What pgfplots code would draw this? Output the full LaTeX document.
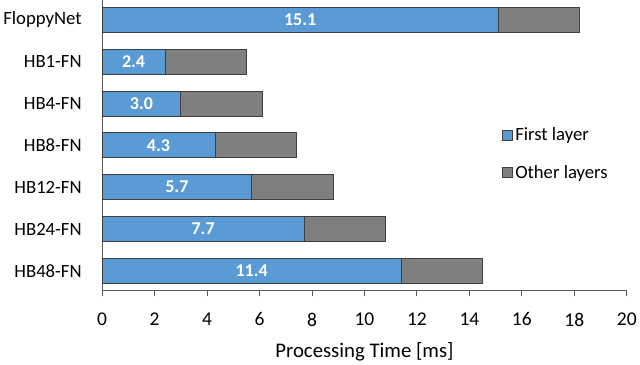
\documentclass[border=0pt]{standalone}
\usepackage{pgfplots}
\usepackage{pgfplotstable}
\pgfplotsset{compat=1.18}
\usepackage{fontspec}
\setmainfont{Carlito}

\definecolor{firstblue}{HTML}{5B9BD5}
\definecolor{othergray}{HTML}{7F7F7F}
\definecolor{edge}{HTML}{3F3F3F}

% y: 0 = bottom row
\pgfplotstableread{
y first other
0 11.4 3.1
1 7.7  3.1
2 5.7  3.1
3 4.3  3.1
4 3.0  3.1
5 2.4  3.1
6 15.1 3.1
}\timing

\begin{document}
\begin{tikzpicture}
\begin{axis}[
    scale only axis,
    width=525pt, height=290pt,
    xmin=0, xmax=20,
    xtick={0,2,...,20},
    ymin=-0.466, ymax=6.466,
    ytick={0,1,2,3,4,5,6},
    yticklabels={HB48-FN,HB24-FN,HB12-FN,HB8-FN,HB4-FN,HB1-FN,FloppyNet},
    axis x line*=bottom,
    axis y line*=left,
    axis line style={draw=black!65, line width=0.9pt, -},
    x tick style={draw=black!65, line width=0.9pt},
    xtick align=outside,
    major tick length=6pt,
    y tick style={draw=none},
    xticklabel style={font=\fontsize{19.5}{23}\selectfont, yshift=-13pt},
    yticklabel style={font=\fontsize{18.7}{22}\selectfont, xshift=-17pt},
    /pgf/number format/assume math mode=true,
    xlabel={Processing Time [ms]},
    xlabel style={font=\fontsize{20.8}{24}\selectfont, yshift=-9pt},
    legend style={at={(0.757,0.575)}, anchor=north west, draw=none, fill=none,
        font=\fontsize{18.7}{22}\selectfont, row sep=19pt},
    legend cell align=left,
    legend image code/.code={\draw[#1, line width=0.8pt] (0pt,-5pt) rectangle (10pt,5pt);},
]
% total bar (first + other), drawn underneath
\addplot[xbar, bar width=25pt, bar shift=0pt, fill=othergray, draw=edge, line width=0.8pt, forget plot]
    table[x expr=\thisrow{first}+\thisrow{other}, y=y] {\timing};
% first layer on top
\addplot[xbar, bar width=25pt, bar shift=0pt, fill=firstblue, draw=edge, line width=0.8pt]
    table[x=first, y=y] {\timing};
\addlegendentry{First layer}
% legend entry for the other layers
\addlegendimage{fill=othergray, draw=edge}
\addlegendentry{Other layers}
% value labels, centred in the first segment
\addplot[draw=none, mark=none, forget plot,
    nodes near coords={\pgfmathprintnumber[fixed,fixed zerofill,precision=1]{\pgfplotspointmeta}},
    point meta=\thisrow{first},
    every node near coord/.style={anchor=center, text=white,
        font=\fontsize{18}{21}\selectfont\bfseries},
] table[x expr=\thisrow{first}/2, y=y] {\timing};
\end{axis}
\end{tikzpicture}
\end{document}
